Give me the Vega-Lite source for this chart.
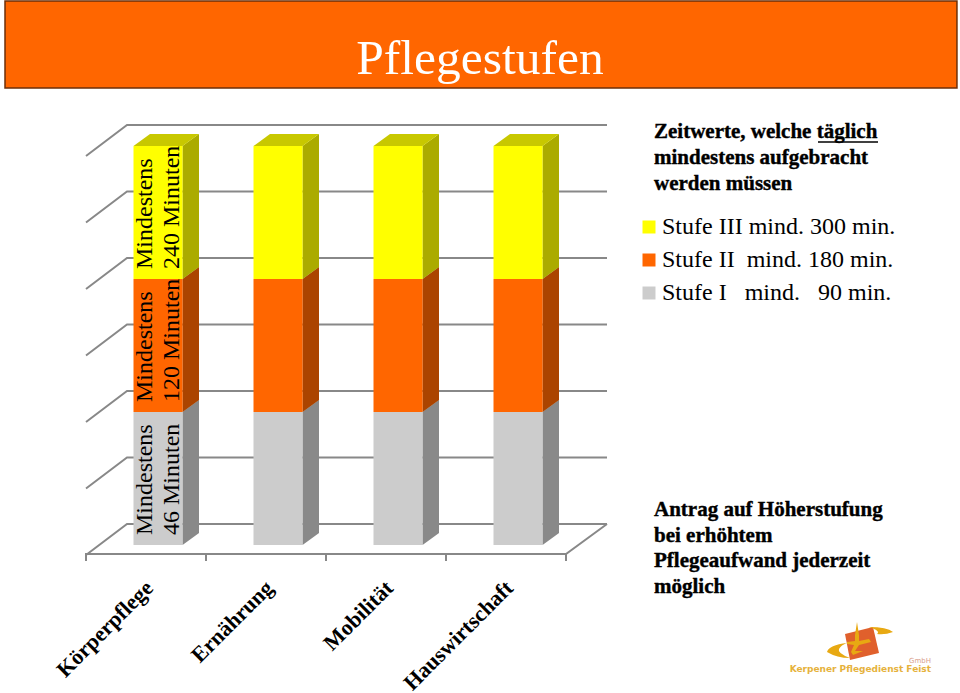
{
"$schema":"https://vega.github.io/schema/vega-lite/v6.json",
"width":960,"height":693,"autosize":"none","padding":0,"background":"white",
"config":{"view":{"stroke":null},"font":"Liberation Serif"},
"title":{"text":"Pflegestufen","font":"Liberation Serif","fontSize":49.5,"fontWeight":"normal","color":"white","anchor":"middle","baseline":"alphabetic","offset":-123},
"data":{"values":[
{"kategorie":"Körperpflege","nr":0,"rang":1,"stufe":"Stufe I\u00a0\u00a0\u00a0mind.\u00a0\u00a0\u00a090 min.","wert":1,"beschriftung":["Mindestens","46 Minuten"]},
{"kategorie":"Körperpflege","nr":0,"rang":2,"stufe":"Stufe II\u00a0\u00a0mind. 180 min.","wert":1,"beschriftung":["Mindestens","120 Minuten"]},
{"kategorie":"Körperpflege","nr":0,"rang":3,"stufe":"Stufe III mind. 300 min.","wert":1,"beschriftung":["Mindestens","240 Minuten"]},
{"kategorie":"Ernährung","nr":1,"rang":1,"stufe":"Stufe I\u00a0\u00a0\u00a0mind.\u00a0\u00a0\u00a090 min.","wert":1},
{"kategorie":"Ernährung","nr":1,"rang":2,"stufe":"Stufe II\u00a0\u00a0mind. 180 min.","wert":1},
{"kategorie":"Ernährung","nr":1,"rang":3,"stufe":"Stufe III mind. 300 min.","wert":1},
{"kategorie":"Mobilität","nr":2,"rang":1,"stufe":"Stufe I\u00a0\u00a0\u00a0mind.\u00a0\u00a0\u00a090 min.","wert":1},
{"kategorie":"Mobilität","nr":2,"rang":2,"stufe":"Stufe II\u00a0\u00a0mind. 180 min.","wert":1},
{"kategorie":"Mobilität","nr":2,"rang":3,"stufe":"Stufe III mind. 300 min.","wert":1},
{"kategorie":"Hauswirtschaft","nr":3,"rang":1,"stufe":"Stufe I\u00a0\u00a0\u00a0mind.\u00a0\u00a0\u00a090 min.","wert":1},
{"kategorie":"Hauswirtschaft","nr":3,"rang":2,"stufe":"Stufe II\u00a0\u00a0mind. 180 min.","wert":1},
{"kategorie":"Hauswirtschaft","nr":3,"rang":3,"stufe":"Stufe III mind. 300 min.","wert":1}
]},
"transform":[{"stack":"wert","groupby":["nr"],"sort":[{"field":"rang","order":"ascending"}],"as":["y0","y1"]}],
"layer":[
{"data":{"values":[{}]},
 "mark":{"type":"rect","fill":"#ff6600","stroke":"#6e2f08","strokeWidth":1.5},
 "encoding":{
  "x":{"datum":-1.275,"type":"quantitative","scale":{"domain":[-1.316667,6.683333],"nice":false,"zero":false,"padding":0},
   "axis":{"values":[0,1,2,3],"labelExpr":"['Körperpflege','Ernährung','Mobilität','Hauswirtschaft'][datum.value]","orient":"bottom","offset":-109,"domain":false,"ticks":false,"grid":false,"title":null,"labelAngle":-45,"labelAlign":"right","labelBaseline":"middle","labelFont":"Liberation Serif","labelFontWeight":"bold","labelFontSize":22,"labelColor":"black","labelPadding":0,"labelOffset":-9,"labelOverlap":false,"labelBound":false,"labelFlush":false}},
  "x2":{"datum":6.658},
  "y":{"datum":4.0902,"type":"quantitative","scale":{"domain":[-1.112782,4.097744],"nice":false,"zero":false},"axis":null},
  "y2":{"datum":3.4361}}},
{"data":{"values":[{"stufe":0},{"stufe":0.5},{"stufe":1},{"stufe":1.5},{"stufe":2},{"stufe":2.5},{"stufe":3}]},
 "mark":{"type":"point","filled":false,"stroke":"#888888","strokeWidth":2,"opacity":1,"size":4,"shape":"M-72,10 L-31,-21 L449,-21"},
 "encoding":{
  "x":{"datum":0,"type":"quantitative","scale":{"domain":[-1.316667,6.683333],"nice":false,"zero":false,"padding":0}},
  "y":{"field":"stufe","type":"quantitative","scale":{"domain":[-1.112782,4.097744],"nice":false,"zero":false},"axis":null}}},
{"data":{"values":[{"stufe":0}]},
 "mark":{"type":"point","filled":false,"stroke":"#888888","strokeWidth":2,"opacity":1,"size":4,"shape":"M-72,16 L-72,9 L408,9 L449,-21 M48,9 L48,16 M168,9 L168,16 M288,9 L288,16 M408,9 L408,16"},
 "encoding":{
  "x":{"datum":0,"type":"quantitative","scale":{"domain":[-1.316667,6.683333],"nice":false,"zero":false,"padding":0}},
  "y":{"field":"stufe","type":"quantitative","scale":{"domain":[-1.112782,4.097744],"nice":false,"zero":false},"axis":null}}},
{"mark":{"type":"point","filled":true,"opacity":1,"size":4,"strokeWidth":0,"shape":"M24.5,0 L41,-12 L41,-145 L24.5,-133 Z"},
 "encoding":{
  "x":{"field":"nr","type":"quantitative","scale":{"domain":[-1.316667,6.683333],"nice":false,"zero":false,"padding":0}},
  "y":{"field":"y0","type":"quantitative","scale":{"domain":[-1.112782,4.097744],"nice":false,"zero":false},"axis":null},
  "color":{"field":"stufe","type":"nominal","scale":{"domain":["Stufe III mind. 300 min.","Stufe II\u00a0\u00a0mind. 180 min.","Stufe I\u00a0\u00a0\u00a0mind.\u00a0\u00a0\u00a090 min."],"range":["#ffff00","#ff6600","#cccccc"]}}}},
{"mark":{"type":"point","filled":true,"opacity":0.33,"size":4,"strokeWidth":0,"fill":"black","shape":"M24.5,0 L41,-12 L41,-145 L24.5,-133 Z"},
 "encoding":{
  "x":{"field":"nr","type":"quantitative","scale":{"domain":[-1.316667,6.683333],"nice":false,"zero":false,"padding":0}},
  "y":{"field":"y0","type":"quantitative","scale":{"domain":[-1.112782,4.097744],"nice":false,"zero":false},"axis":null}}},
{"transform":[{"filter":"datum.y1 == 3"}],
 "mark":{"type":"point","filled":true,"opacity":1,"size":4,"strokeWidth":0,"fill":"#c8c800","shape":"M-24.5,0 L-8,-12 L41,-12 L24.5,0 Z"},
 "encoding":{
  "x":{"field":"nr","type":"quantitative","scale":{"domain":[-1.316667,6.683333],"nice":false,"zero":false,"padding":0}},
  "y":{"field":"y1","type":"quantitative","scale":{"domain":[-1.112782,4.097744],"nice":false,"zero":false},"axis":null}}},
{"mark":{"type":"bar","width":49},
 "encoding":{
  "x":{"field":"nr","type":"quantitative","scale":{"domain":[-1.316667,6.683333],"nice":false,"zero":false,"padding":0}},
  "y":{"field":"y0","type":"quantitative","scale":{"domain":[-1.112782,4.097744],"nice":false,"zero":false},"axis":null},
  "y2":{"field":"y1"},
  "color":{"field":"stufe","type":"nominal","scale":{"domain":["Stufe III mind. 300 min.","Stufe II\u00a0\u00a0mind. 180 min.","Stufe I\u00a0\u00a0\u00a0mind.\u00a0\u00a0\u00a090 min."],"range":["#ffff00","#ff6600","#cccccc"]},
   "legend":{"orient":"none","legendX":637,"legendY":215,"title":null,"padding":0,"symbolType":"square","symbolSize":169,"symbolStrokeWidth":0,"labelFont":"Liberation Serif","labelFontSize":24,"labelColor":"black","labelOffset":1,"rowPadding":9,"labelLimit":320}}}},
{"transform":[{"filter":"datum.nr == 0"}],
 "mark":{"type":"text","angle":270,"align":"left","baseline":"middle","dx":10,"dy":-13,"lineHeight":27,"fontSize":24,"font":"Liberation Serif","color":"black"},
 "encoding":{
  "x":{"field":"nr","type":"quantitative","scale":{"domain":[-1.316667,6.683333],"nice":false,"zero":false,"padding":0}},
  "y":{"field":"y0","type":"quantitative","scale":{"domain":[-1.112782,4.097744],"nice":false,"zero":false},"axis":null},
  "text":{"field":"beschriftung"}}},
{"data":{"values":[{"text":["Zeitwerte, welche täglich","mindestens aufgebracht","werden müssen"]}]},
 "mark":{"type":"text","align":"left","baseline":"alphabetic","lineHeight":26,"fontSize":21,"fontWeight":"bold","font":"Liberation Serif","color":"black","stroke":"black","strokeWidth":0.4},
 "encoding":{
  "x":{"datum":4.1333,"type":"quantitative","scale":{"domain":[-1.316667,6.683333],"nice":false,"zero":false,"padding":0}},
  "y":{"datum":3.0602,"type":"quantitative","scale":{"domain":[-1.112782,4.097744],"nice":false,"zero":false},"axis":null},
  "text":{"field":"text"}}},
{"data":{"values":[{}]},
 "mark":{"type":"rule","stroke":"black","strokeWidth":1.5},
 "encoding":{
  "x":{"datum":5.5,"type":"quantitative","scale":{"domain":[-1.316667,6.683333],"nice":false,"zero":false,"padding":0}},
  "x2":{"datum":6.0},
  "y":{"datum":3.0301,"type":"quantitative","scale":{"domain":[-1.112782,4.097744],"nice":false,"zero":false},"axis":null}}},
{"data":{"values":[{"text":["Antrag auf Höherstufung","bei erhöhtem","Pflegeaufwand jederzeit","möglich"]}]},
 "mark":{"type":"text","align":"left","baseline":"alphabetic","lineHeight":25.5,"fontSize":21,"fontWeight":"bold","font":"Liberation Serif","color":"black","stroke":"black","strokeWidth":0.4},
 "encoding":{
  "x":{"datum":4.1333,"type":"quantitative","scale":{"domain":[-1.316667,6.683333],"nice":false,"zero":false,"padding":0}},
  "y":{"datum":0.2143,"type":"quantitative","scale":{"domain":[-1.112782,4.097744],"nice":false,"zero":false},"axis":null},
  "text":{"field":"text"}}},
{"data":{"values":[{"teil":"Quadrat"}]},
 "mark":{"type":"point","filled":true,"opacity":1,"size":4,"strokeWidth":0,"fill":"#e0602c","shape":"M-6,-7 L22,-14 L28,12 L-1,19 Z"},
 "encoding":{
  "x":{"datum":5.775,"type":"quantitative","scale":{"domain":[-1.316667,6.683333],"nice":false,"zero":false,"padding":0}},
  "y":{"datum":-0.7218,"type":"quantitative","scale":{"domain":[-1.112782,4.097744],"nice":false,"zero":false},"axis":null}}},
{"data":{"values":[{"teil":"Bogen"}]},
 "mark":{"type":"point","filled":true,"opacity":1,"size":4,"strokeWidth":0,"fill":"#e8a912","shape":"M18,-14 Q36,-14 42,-9 Q34,-6 26,-7 Q30,-10 18,-14 Z M-4,2 Q-22,4 -24,11 Q-14,17 -1,17 Q-14,12 -12,8 Q-10,4 -4,2 Z M6,-19 L8,-6 L8,0 L18,-2 L20,1 L8,4 L4,10 L12,10 L2,14 L0,11 L3,4 L-4,3 L-4,1 L4,0 L4,-6 Z"},
 "encoding":{
  "x":{"datum":5.775,"type":"quantitative","scale":{"domain":[-1.316667,6.683333],"nice":false,"zero":false,"padding":0}},
  "y":{"datum":-0.7218,"type":"quantitative","scale":{"domain":[-1.112782,4.097744],"nice":false,"zero":false},"axis":null}}},
{"data":{"values":[{"text":"Kerpener Pflegedienst Feist"}]},
 "mark":{"type":"text","align":"right","baseline":"alphabetic","fontSize":9,"fontWeight":"bold","font":"DejaVu Sans","color":"#e6b23c"},
 "encoding":{
  "x":{"datum":6.4417,"type":"quantitative","scale":{"domain":[-1.316667,6.683333],"nice":false,"zero":false,"padding":0}},
  "y":{"datum":-0.9586,"type":"quantitative","scale":{"domain":[-1.112782,4.097744],"nice":false,"zero":false},"axis":null},
  "text":{"field":"text"}}},
{"data":{"values":[{"text":"GmbH"}]},
 "mark":{"type":"text","align":"right","baseline":"alphabetic","fontSize":7,"font":"DejaVu Sans","color":"#d9a08c"},
 "encoding":{
  "x":{"datum":6.4417,"type":"quantitative","scale":{"domain":[-1.316667,6.683333],"nice":false,"zero":false,"padding":0}},
  "y":{"datum":-0.8835,"type":"quantitative","scale":{"domain":[-1.112782,4.097744],"nice":false,"zero":false},"axis":null},
  "text":{"field":"text"}}}
]
}
